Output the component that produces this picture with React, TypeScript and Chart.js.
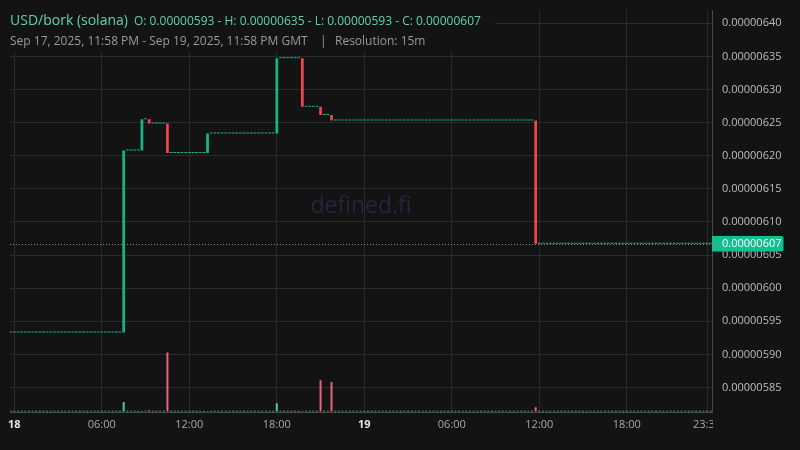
import React, { useEffect, useRef } from "react";
import { Chart, registerables } from "chart.js";
Chart.register(...registerables);

const BG = "#131313";
const FONT = "'Open Sans', 'Noto Sans', sans-serif";

// Prices in units of 1e-8. Time in hours from Sep 18, 00:00 (15m candles).
const firstSlot = -0.25;
const lastSlot = 47.75;
const slotHours = 0.25;
const startPrice = 593.3;

// candles where the price moved (all other candles are flat at the last close)
const moveTimes = [7.5, 8.75, 9.25, 10.5, 13.25, 18.0, 19.75, 21.0, 21.75, 35.75];
const moveOpens = [593.3, 620.8, 625.5, 624.85, 620.4, 623.35, 634.7, 627.4, 626.15, 625.3];
const moveCloses = [620.8, 625.5, 624.85, 620.4, 623.35, 634.7, 627.4, 626.15, 625.3, 606.7];
const moveVolumes = [16, 1, 2.2, 100, 1, 14, 1, 53, 50, 7.3];
const quietVolume = 1.2;

const xTickValues = [0, 6, 12, 18, 24, 30, 36, 42, 47.5];
const xTickLabels = ["18", "06:00", "12:00", "18:00", "19", "06:00", "12:00", "18:00", "23:30"];
const xBoldTicks = [0, 24];
const yTickValues = [585, 590, 595, 600, 605, 610, 615, 620, 625, 630, 635, 640];

const titleText = "USD/bork (solana)";
const ohlcText = "O: 0.00000593 - H: 0.00000635 - L: 0.00000593 - C: 0.00000607";
const rangeText = "Sep 17, 2025, 11:58 PM - Sep 19, 2025, 11:58 PM GMT";
const resolutionText = "Resolution: 15m";
const watermarkText = "defined.fi";
const lastPrice = 606.7;

const UP = "#15b38c";
const DOWN = "#f0464f";
const VOL_UP = "#4cc7a4";
const VOL_DOWN = "#e5667c";

function buildCandles() {
  const out: { t: number; o: number; c: number; v: number }[] = [];
  let level = startPrice;
  for (let i = 0; ; i++) {
    const t = firstSlot + i * slotHours;
    if (t > lastSlot + 1e-9) break;
    const k = moveTimes.findIndex((m) => Math.abs(m - t) < 1e-6);
    if (k >= 0) {
      out.push({ t, o: moveOpens[k], c: moveCloses[k], v: moveVolumes[k] });
      level = moveCloses[k];
    } else {
      out.push({ t, o: level, c: level, v: quietVolume });
    }
  }
  return out;
}

const fmt = (v: number) => (v * 1e-8).toFixed(8);

export default function App() {
  const ref = useRef<HTMLCanvasElement | null>(null);
  useEffect(() => {
    document.body.style.margin = "0";
    document.body.style.background = BG;
    const candles = buildCandles();
    const overlay = {
      id: "overlay",
      beforeDatasetsDraw(chart: any) {
        const { ctx, chartArea } = chart;
        ctx.save();
        ctx.fillStyle = "#26243f";
        ctx.font = `23px ${FONT}`;
        ctx.textAlign = "center";
        ctx.textBaseline = "middle";
        ctx.fillText(watermarkText, (chartArea.left + chartArea.right) / 2, 206);
        ctx.restore();
      },
      afterDatasetsDraw(chart: any) {
        const { ctx, chartArea, scales } = chart;
        const y = Math.round(scales.y.getPixelForValue(lastPrice)) + 0.5;
        ctx.save();
        ctx.strokeStyle = "#8a8a8a";
        ctx.lineWidth = 1;
        ctx.setLineDash([1, 2]);
        ctx.beginPath();
        ctx.moveTo(chartArea.left, y);
        ctx.lineTo(chartArea.right, y);
        ctx.stroke();
        ctx.restore();
      },
      afterDraw(chart: any) {
        const { ctx, chartArea, scales } = chart;
        ctx.save();
        // clip overflowing x label
        ctx.fillStyle = BG;
        ctx.fillRect(chartArea.right + 1, chartArea.bottom + 1, 800 - chartArea.right, 450 - chartArea.bottom);
        // header box
        ctx.fillRect(0, 0, 495, 52);
        ctx.textBaseline = "alphabetic";
        ctx.textAlign = "left";
        ctx.fillStyle = "#62cfaa";
        ctx.font = `14px ${FONT}`;
        ctx.fillText(titleText, 10, 25);
        const tw = ctx.measureText(titleText).width;
        ctx.font = `12px ${FONT}`;
        ctx.fillText(ohlcText, 10 + tw + 6, 25);
        ctx.fillStyle = "#9a9a9a";
        ctx.font = `12px ${FONT}`;
        ctx.fillText(rangeText, 10, 45);
        ctx.fillText("|", 320, 45);
        ctx.fillText(resolutionText, 335, 45);
        // last price label
        const y = scales.y.getPixelForValue(lastPrice);
        const bx = chartArea.right;
        const bw = 71.5;
        const bh = 15.5;
        ctx.fillStyle = "#14bf8f";
        ctx.beginPath();
        ctx.moveTo(bx, y - bh / 2);
        ctx.lineTo(bx + bw - 2, y - bh / 2);
        ctx.quadraticCurveTo(bx + bw, y - bh / 2, bx + bw, y - bh / 2 + 2);
        ctx.lineTo(bx + bw, y + bh / 2 - 2);
        ctx.quadraticCurveTo(bx + bw, y + bh / 2, bx + bw - 2, y + bh / 2);
        ctx.lineTo(bx, y + bh / 2);
        ctx.closePath();
        ctx.fill();
        ctx.fillStyle = "#ffffff";
        ctx.font = `11px ${FONT}`;
        ctx.textBaseline = "middle";
        ctx.fillText(fmt(lastPrice), bx + 10, y + 0.5);
        ctx.restore();
      },
    };

    const chart = new Chart(ref.current as HTMLCanvasElement, {
      type: "bar",
      data: {
        datasets: [
          {
            label: "price",
            data: candles.map((c) => ({ x: c.t, y: [c.o, c.c] })) as any,
            backgroundColor: candles.map((c) => (c.c >= c.o ? UP : DOWN)),
            borderWidth: 0,
            borderSkipped: false,
            minBarLength: 1,
            barPercentage: 0.75,
            categoryPercentage: 1,
            grouped: false,
            xAxisID: "x",
            yAxisID: "y",
            order: 1,
          } as any,
          {
            label: "volume",
            data: candles.map((c) => ({ x: c.t, y: c.v })) as any,
            backgroundColor: candles.map((c) => (c.c >= c.o ? VOL_UP : VOL_DOWN)),
            borderWidth: 0,
            barPercentage: 0.55,
            categoryPercentage: 1,
            grouped: false,
            xAxisID: "x",
            yAxisID: "vol",
            order: 2,
          } as any,
        ],
      },
      options: {
        animation: false,
        responsive: false,
        maintainAspectRatio: false,
        layout: { padding: { top: 10, left: 10, right: 0, bottom: 0 } },
        plugins: { legend: { display: false }, tooltip: { enabled: false } },
        scales: {
          x: {
            type: "linear",
            min: -0.295,
            max: 47.84,
            offset: false,
            afterBuildTicks: (s: any) => {
              s.ticks = xTickValues.map((v) => ({ value: v }));
            },
            afterFit: (s: any) => {
              s.height = 37.3;
              s.paddingLeft = 0;
              s.paddingRight = 0;
            },
            grid: { color: "#2a2a2a", drawTicks: false, offset: false },
            border: { display: true, color: "#4a4a4a" },
            ticks: {
              autoSkip: false,
              maxRotation: 0,
              padding: 6,
              callback: (v: any) => {
                const i = xTickValues.indexOf(Number(v));
                return i >= 0 ? xTickLabels[i] : "";
              },
              font: (ctx: any) => ({
                family: FONT,
                size: 11,
                weight: xBoldTicks.includes(ctx.tick?.value) ? "bold" : "normal",
              }),
              color: (ctx: any) => (xBoldTicks.includes(ctx.tick?.value) ? "#e6e6e6" : "#a8a8a8"),
            },
          },
          y: {
            type: "linear",
            position: "right",
            min: 581.2,
            max: 642.0,
            afterBuildTicks: (s: any) => {
              s.ticks = yTickValues.map((v) => ({ value: v }));
            },
            afterFit: (s: any) => {
              s.width = 88;
              s.paddingTop = 0;
              s.paddingBottom = 0;
            },
            grid: { color: "#2a2a2a", drawTicks: false },
            border: { display: true, color: "#4a4a4a" },
            ticks: {
              padding: 10,
              color: "#bdbdbd",
              font: { family: FONT, size: 11 },
              callback: (v: any) => fmt(Number(v)),
            },
          },
          vol: {
            type: "linear",
            display: false,
            min: -2,
            max: 680,
          },
        },
      } as any,
      plugins: [overlay],
    });
    return () => chart.destroy();
  }, []);
  return (
    <div style={{ width: 800, height: 450, background: BG }}>
      <canvas ref={ref} width={800} height={450} style={{ display: "block" }} />
    </div>
  );
}
